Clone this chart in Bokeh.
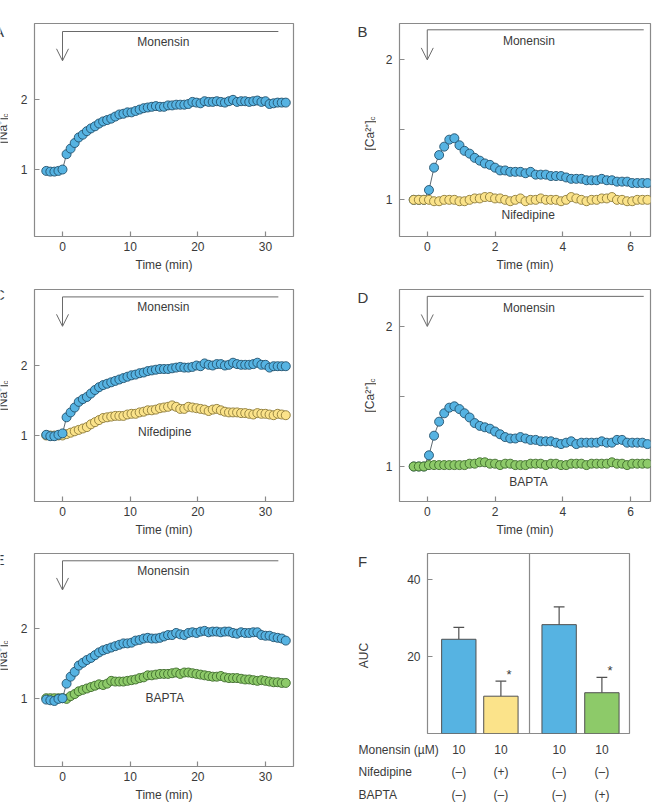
import math

from bokeh.plotting import figure
from bokeh.layouts import column, row
from bokeh.models import Range1d, Label, Arrow, OpenHead, Span, FixedTicker
from bokeh.embed import file_html
from bokeh.resources import INLINE

# ---------------------------------------------------------------- data
# long recordings (panels A, C, E): one reading every 0.6 min from -2.4 min
t_long = [round(-2.4 + 0.6 * i, 1) for i in range(60)]
# short recordings (panels B, D): one reading every 0.15 min from -0.4 min
t_short = [round(-0.4 + 0.15 * i, 2) for i in range(47)]

na_control_a = [0.98, 0.97, 0.97, 0.98, 1.00,
                1.22, 1.30, 1.38, 1.46, 1.50,
                1.55, 1.59, 1.62, 1.66, 1.69,
                1.71, 1.73, 1.76, 1.79, 1.80,
                1.82, 1.82, 1.84, 1.86, 1.88,
                1.89, 1.90, 1.91, 1.90, 1.90,
                1.92, 1.92, 1.93, 1.93, 1.93,
                1.94, 1.97, 1.96, 1.95, 1.98,
                1.97, 1.97, 1.98, 1.97, 1.96,
                1.98, 2.00, 1.97, 1.98, 1.98,
                1.97, 1.98, 1.99, 1.97, 1.98,
                1.94, 1.95, 1.96, 1.96, 1.96]

na_control_c = [1.01, 0.99, 0.99, 1.01, 1.03,
                1.26, 1.33, 1.40, 1.48, 1.52,
                1.55, 1.60, 1.65, 1.69, 1.72,
                1.74, 1.76, 1.78, 1.80, 1.82,
                1.84, 1.86, 1.87, 1.89, 1.90,
                1.92, 1.93, 1.94, 1.95, 1.95,
                1.95, 1.96, 1.97, 1.98, 1.97,
                1.97, 1.98, 2.00, 1.99, 2.03,
                2.01, 2.00, 2.02, 2.02, 2.00,
                2.01, 2.04, 2.02, 2.01, 2.01,
                2.01, 2.02, 2.04, 2.01, 2.01,
                1.97, 1.99, 1.99, 1.99, 1.99]

na_nifedipine_c = [1.00, 1.00, 1.00, 1.00, 1.00,
                   1.02, 1.04, 1.06, 1.08, 1.10,
                   1.12, 1.16, 1.19, 1.22, 1.25,
                   1.26, 1.27, 1.28, 1.28, 1.28,
                   1.30, 1.31, 1.31, 1.33, 1.34,
                   1.36, 1.36, 1.37, 1.39, 1.40,
                   1.41, 1.43, 1.41, 1.38, 1.38,
                   1.41, 1.40, 1.39, 1.38, 1.37,
                   1.35, 1.37, 1.38, 1.36, 1.34,
                   1.33, 1.33, 1.33, 1.32, 1.32,
                   1.31, 1.30, 1.32, 1.31, 1.31,
                   1.30, 1.29, 1.31, 1.30, 1.29]

na_control_e = [0.98, 0.97, 0.96, 0.99, 1.00,
                1.21, 1.31, 1.38, 1.47, 1.51,
                1.55, 1.58, 1.62, 1.66, 1.69,
                1.71, 1.73, 1.75, 1.77, 1.79,
                1.79, 1.80, 1.83, 1.84, 1.86,
                1.87, 1.86, 1.86, 1.87, 1.89,
                1.91, 1.91, 1.94, 1.92, 1.91,
                1.94, 1.95, 1.94, 1.96, 1.97,
                1.95, 1.96, 1.96, 1.95, 1.96,
                1.96, 1.94, 1.93, 1.95, 1.94,
                1.94, 1.95, 1.95, 1.91, 1.90,
                1.90, 1.88, 1.87, 1.86, 1.83]

na_bapta_e = [1.00, 1.00, 1.00, 1.00, 1.00,
              0.99, 1.03, 1.06, 1.10, 1.12,
              1.14, 1.16, 1.18, 1.20, 1.19,
              1.21, 1.25, 1.24, 1.24, 1.24,
              1.25, 1.26, 1.27, 1.29, 1.30,
              1.33, 1.33, 1.34, 1.35, 1.35,
              1.35, 1.36, 1.37, 1.35, 1.37,
              1.37, 1.36, 1.35, 1.34, 1.33,
              1.32, 1.31, 1.31, 1.32, 1.30,
              1.29, 1.29, 1.29, 1.28, 1.27,
              1.27, 1.26, 1.25, 1.26, 1.25,
              1.24, 1.23, 1.23, 1.22, 1.22]

ca_control_b = [1.00, 1.00, 1.00, 1.07, 1.23, 1.32, 1.38, 1.43, 1.44, 1.39,
                1.35, 1.33, 1.30, 1.28, 1.26, 1.25, 1.23, 1.21, 1.21, 1.20,
                1.20, 1.20, 1.19, 1.20, 1.18, 1.18, 1.18, 1.17, 1.17, 1.17,
                1.16, 1.15, 1.15, 1.15, 1.14, 1.14, 1.14, 1.15, 1.14, 1.14,
                1.13, 1.13, 1.13, 1.12, 1.12, 1.12, 1.12]

ca_nifedipine_b = [1.00, 1.00, 1.00, 1.00, 0.99, 0.99, 1.00, 1.00, 1.00, 0.99,
                   0.99, 1.00, 1.01, 1.01, 1.02, 1.02, 1.01, 1.01, 1.00, 0.99,
                   1.00, 1.01, 0.99, 1.00, 1.00, 1.01, 1.00, 1.00, 1.00, 0.99,
                   1.00, 1.02, 1.01, 1.00, 0.99, 1.00, 1.00, 1.01, 1.01, 1.02,
                   1.00, 1.00, 0.99, 0.99, 1.00, 1.00, 1.00]

ca_control_d = [1.00, 1.00, 1.00, 1.08, 1.22, 1.32, 1.38, 1.42, 1.43, 1.41,
                1.38, 1.35, 1.31, 1.29, 1.28, 1.27, 1.25, 1.23, 1.21, 1.20,
                1.20, 1.21, 1.20, 1.19, 1.19, 1.18, 1.18, 1.18, 1.17, 1.16,
                1.17, 1.18, 1.16, 1.17, 1.17, 1.17, 1.17, 1.18, 1.17, 1.17,
                1.19, 1.19, 1.17, 1.17, 1.17, 1.17, 1.16]

ca_bapta_d = [1.00, 1.00, 1.00, 1.01, 1.01, 1.01, 1.01, 1.01, 1.01, 1.01,
              1.01, 1.02, 1.02, 1.03, 1.03, 1.02, 1.02, 1.01, 1.02, 1.02,
              1.01, 1.01, 1.01, 1.02, 1.02, 1.02, 1.01, 1.02, 1.02, 1.01,
              1.01, 1.02, 1.02, 1.02, 1.01, 1.02, 1.02, 1.02, 1.02, 1.03,
              1.02, 1.02, 1.01, 1.02, 1.02, 1.02, 1.02]

# area under the curve, mean and SEM
auc_mean = [24.5, 9.7, 28.3, 10.6]
auc_sem = [3.1, 3.9, 4.6, 4.0]
auc_signif = [False, True, False, True]
row_names = ["Monensin (µM)", "Nifedipine", "BAPTA"]
monensin_row = ["10", "10", "10", "10"]
nifedipine_row = ["(–)", "(+)", "(–)", "(–)"]
bapta_row = ["(–)", "(–)", "(–)", "(+)"]

# ---------------------------------------------------------------- style
FONT = "Liberation Sans"
INK = "#3a3a3a"
FRAME = "#8a8a8a"
BRACKET = "#6a6a6a"
TRACE_LINE = "#34434c"
BLUE = ("#56b3e2", "#23516d")
YELLOW = ("#fbe38a", "#8c7b3a")
GREEN = ("#8dca69", "#3e6b2c")
BAR_LINE = "#505050"
BAR_X = [0.93, 2.18, 3.91, 5.18]
BAR_W = 1.02
F_X = (0.0, 6.0)
F_FRAME_PX = (427, 629)   # page columns of the bar chart's frame


def make_label(x, y, s, size, align, baseline, angle):
    return Label(x=x, y=y, text=s, text_font=FONT, text_font_size=size,
                 text_color=INK, text_align=align, text_baseline=baseline,
                 angle=angle)


class Panel:
    """A figure whose plotting frame is pinned by its borders; `at` turns a
    page pixel position into this panel's data coordinates."""

    def __init__(self, ox, oy, width, height, left, right, top, bottom, xr, yr, axes=True):
        self.ox, self.oy = ox, oy
        self.fl, self.ft = left, top
        self.fw = width - left - right
        self.fh = height - top - bottom
        self.xr, self.yr = xr, yr
        p = figure(width=width, height=height, title=None,
                   x_range=Range1d(*xr), y_range=Range1d(*yr),
                   output_backend="svg", toolbar_location=None,
                   min_border_left=left, min_border_right=right,
                   min_border_top=top, min_border_bottom=bottom,
                   background_fill_color="white", border_fill_color="white")
        p.xgrid.grid_line_color = None
        p.ygrid.grid_line_color = None
        if axes:
            p.outline_line_color = FRAME
            p.outline_line_width = 1.2
            for ax in (p.xaxis[0], p.yaxis[0]):
                ax.axis_line_color = None
                ax.major_tick_in = 5
                ax.major_tick_out = 0
                ax.minor_tick_in = 0
                ax.minor_tick_out = 0
                ax.major_tick_line_color = FRAME
                ax.major_tick_line_width = 1.2
                ax.major_label_text_font = FONT
                ax.major_label_text_font_size = "12px"
                ax.major_label_text_color = INK
            p.xaxis.major_label_standoff = 5
            p.yaxis.major_label_standoff = 7
            p.xaxis.axis_label_text_font = FONT
            p.xaxis.axis_label_text_font_size = "12px"
            p.xaxis.axis_label_text_font_style = "normal"
            p.xaxis.axis_label_text_color = INK
            p.xaxis.axis_label_standoff = 4
        else:
            p.xaxis.visible = False
            p.yaxis.visible = False
            p.outline_line_color = None
        self.p = p

    def at(self, ax, ay):
        x = self.xr[0] + (ax - self.ox - self.fl) / self.fw * (self.xr[1] - self.xr[0])
        y = self.yr[1] - (ay - self.oy - self.ft) / self.fh * (self.yr[1] - self.yr[0])
        return x, y

    def text_px(self, ax, ay, s, size="12px", align="center", baseline="middle", angle=0.0):
        x, y = self.at(ax, ay)
        self.text(x, y, s, size, align, baseline, angle)

    def text(self, x, y, s, size="12px", align="center", baseline="middle", angle=0.0):
        self.p.add_layout(make_label(x, y, s, size, align, baseline, angle))


def gutter(ox, oy, width, height, top, bottom):
    # plain text strip beside a panel (letter and rotated quantity label);
    # a row lines up its figures' frames, so the strip keeps its neighbour's
    # top and bottom borders
    return Panel(ox, oy, width, height, 0, 0, top, bottom,
                 (0, width), (0, height - top - bottom), axes=False)


def ticks(panel, xt, yt, overrides=None):
    panel.p.xaxis.ticker = FixedTicker(ticks=xt)
    panel.p.yaxis.ticker = FixedTicker(ticks=yt)
    if overrides:
        panel.p.yaxis.major_label_overrides = overrides


def trace(panel, t, v, colors):
    panel.p.line(t, v, line_color=TRACE_LINE, line_width=0.8)
    panel.p.scatter(t, v, marker="circle", size=9, fill_color=colors[0],
                    line_color=colors[1], line_width=0.9)


def monensin(panel, top, tip, end, lx, ly):
    panel.p.line([0, end], [top, top], line_color=BRACKET, line_width=1)
    panel.p.add_layout(Arrow(end=OpenHead(size=12, line_color=BRACKET, line_width=1),
                             x_start=0, y_start=top, x_end=0, y_end=tip,
                             line_color=BRACKET, line_width=1))
    panel.text(lx, ly, "Monensin")


def conc_label(strip, base_x, end_y, main, sub):
    # rotated label reading upwards: main text ends at end_y, subscript after it
    strip.text_px(base_x, end_y, main, align="right", baseline="alphabetic",
                  angle=math.pi / 2)
    strip.text_px(base_x + 3, end_y, sub, size="8px", align="left",
                  baseline="alphabetic", angle=math.pi / 2)


def letter(strip, ax, ay, s):
    strip.text_px(ax, ay, s, size="15px")


# ---------------------------------------------------------------- panels
LONG_X = (-4.14, 34.14)
SHORT_X = (-0.82, 6.59)

gA = gutter(0, 0, 8, 280, 23, 44)
A = Panel(8, 0, 322, 280, 26, 37, 23, 44, LONG_X, (0.039, 3.095))
gB = gutter(330, 0, 46, 280, 23, 44)
B = Panel(376, 0, 285, 280, 23, 11, 23, 44, SHORT_X, (0.738, 2.26))

gC = gutter(0, 280, 8, 260, 9, 39)
C = Panel(8, 280, 322, 260, 26, 37, 9, 39, LONG_X, (0.057, 3.086))
gD = gutter(330, 280, 46, 260, 9, 39)
D = Panel(376, 280, 285, 260, 23, 11, 9, 39, SHORT_X, (0.75, 2.264))

gE = gutter(0, 540, 8, 264, 13, 38)
E = Panel(8, 540, 322, 264, 26, 37, 13, 38, LONG_X, (0.016, 3.085))
gF = gutter(330, 540, 46, 195, 13, 2)
F = Panel(376, 540, 285, 195, 51, 32, 13, 2, F_X, (0, 46.8))

# strip under the bar chart holding the treatment table; its x scale lines up
# with the bar chart's frame
px_per_unit = (F_FRAME_PX[1] - F_FRAME_PX[0]) / (F_X[1] - F_X[0])
T = Panel(330, 735, 331, 69, 0, 0, 0, 0,
          (F_X[0] - (F_FRAME_PX[0] - 330) / px_per_unit,
           F_X[0] + (661 - F_FRAME_PX[0]) / px_per_unit),
          (0, 69), axes=False)

for pnl in (A, C, E):
    ticks(pnl, [0, 10, 20, 30], [1, 2])
    pnl.p.xaxis.axis_label = "Time (min)"
    monensin(pnl, 2.98, 2.56, 31.9, 14.9, 2.83)
for pnl in (B, D):
    ticks(pnl, [0, 2, 4, 6], [1, 1.5, 2], {1: "1", 1.5: "", 2: "2"})
    pnl.p.xaxis.axis_label = "Time (min)"
    monensin(pnl, 2.215, 2.0, 6.39, 3.0, 2.135)

# A: monensin alone
trace(A, t_long, na_control_a, BLUE)
conc_label(gA, 2, 117, "[Na⁺]", "c")
letter(gA, -1.5, 31, "A")

# B: Ca2+ with and without nifedipine
trace(B, t_short, ca_control_b, BLUE)
trace(B, t_short, ca_nifedipine_b, YELLOW)
B.text(2.98, 0.89, "Nifedipine")
conc_label(gB, 369, 120, "[Ca²⁺]", "c")
letter(gB, 362, 30.5, "B")

# C: Na+ with nifedipine
trace(C, t_long, na_nifedipine_c, YELLOW)
trace(C, t_long, na_control_c, BLUE)
C.text(15.1, 1.05, "Nifedipine")
conc_label(gC, 2, 384, "[Na⁺]", "c")
letter(gC, -1, 293.5, "C")

# D: Ca2+ with BAPTA
trace(D, t_short, ca_control_d, BLUE)
trace(D, t_short, ca_bapta_d, GREEN)
D.text(2.99, 0.89, "BAPTA")
conc_label(gD, 369, 382, "[Ca²⁺]", "c")
letter(gD, 362.5, 296.7, "D")

# E: Na+ with BAPTA
trace(E, t_long, na_bapta_e, GREEN)
trace(E, t_long, na_control_e, BLUE)
E.text(15.1, 1.01, "BAPTA")
conc_label(gE, 2, 644, "[Na⁺]", "c")
letter(gE, -1, 558.5, "E")

# F: AUC summary bars
fp = F.p
fp.xaxis.visible = False
fp.yaxis.ticker = FixedTicker(ticks=[20, 40])
err_top = [m + s for m, s in zip(auc_mean, auc_sem)]
fp.segment(x0=BAR_X, y0=auc_mean, x1=BAR_X, y1=err_top, line_color=BAR_LINE, line_width=1.2)
fp.segment(x0=[x - 0.16 for x in BAR_X], y0=err_top, x1=[x + 0.16 for x in BAR_X], y1=err_top,
           line_color=BAR_LINE, line_width=1.2)
fp.vbar(x=BAR_X, width=BAR_W, bottom=0, top=auc_mean,
        fill_color=[BLUE[0], YELLOW[0], BLUE[0], GREEN[0]],
        line_color=BAR_LINE, line_width=1)
fp.add_layout(Span(location=3.03, dimension="height", line_color=FRAME, line_width=1.2))
for x, top, sig in zip(BAR_X, err_top, auc_signif):
    if sig:
        F.text(x + 0.24, top + 1.7, "*", size="13px")
gF.text_px(363.5, 655, "AUC", angle=math.pi / 2)
letter(gF, 362, 560.5, "F")

table_y = [749.3, 771.0, 794.0]
for name, ay, cells in zip(row_names, table_y, [monensin_row, nifedipine_row, bapta_row]):
    T.text_px(358, ay, name, align="left")
    y = T.at(0, ay)[1]
    for x, cell in zip(BAR_X, cells):
        T.text(x, y, cell)

layout = column(
    row(gA.p, A.p, gB.p, B.p),
    row(gC.p, C.p, gD.p, D.p),
    row(gE.p, E.p, column(row(gF.p, F.p), T.p)),
)

with open("out.html", "w") as fh:
    fh.write(file_html(layout, INLINE))
